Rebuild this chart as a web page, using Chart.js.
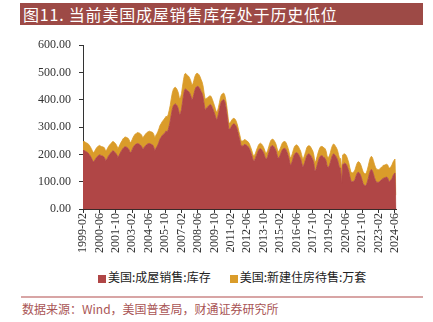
<!DOCTYPE html>
<html lang="zh">
<head>
<meta charset="UTF-8">
<title>图11</title>
<script src="https://cdn.jsdelivr.net/npm/chart.js"></script>
<style>
  body { margin: 0; width: 433px; height: 322px; background: #fff; position: relative; overflow: hidden; }
  #title { position: absolute; left: 20px; top: 3px; width: 403px; height: 22px; background: #9d4a46;
           color: #fff; font: 16px "Noto Sans CJK SC", sans-serif; line-height: 22px; padding-left: 3px;
           letter-spacing: 0.8px; box-sizing: border-box; }
  #wrap { position: absolute; left: 0; top: 30px; width: 433px; height: 232px; }
  #legend { position: absolute; top: 268px; left: 98px; font: 12px "Noto Sans CJK SC", sans-serif; color: #222; white-space: nowrap; }
  #legend span.box { display: inline-block; width: 8px; height: 8px; margin-right: 2px; vertical-align: -0.5px; }
  #legend span.item { margin-right: 19px; }
  #rule { position: absolute; left: 21px; top: 296px; width: 402px; height: 1.5px; background: #d8a5a5; }
  #source { position: absolute; left: 22px; top: 300px; font: 12px "Noto Sans CJK SC", sans-serif; color: #a95555; white-space: nowrap; }
</style>
</head>
<body>
<div id="title">图11. 当前美国成屋销售库存处于历史低位</div>
<div id="wrap"><canvas id="chart" width="433" height="232"></canvas></div>
<div id="legend"></div>
<div id="rule"></div>
<div id="source">数据来源：Wind，美国普查局，财通证券研究所</div>

<script>
// 刻度标签（每16个月一个）
const tickLabels = ['1999-02','2000-06','2001-10','2003-02','2004-06','2005-10','2007-02','2008-06','2009-10','2011-02',
                    '2012-06','2013-10','2015-02','2016-06','2017-10','2019-02','2020-06','2021-10','2023-02','2024-06'];

// 美国:成屋销售:库存 (万套), 1999-02 .. 2024-07
const existingInv = [
  213,215,212,210,208,205,200,195,188,180,172,
  176,182,188,192,196,198,197,195,194,192,188,178,
  180,188,195,200,205,210,213,212,208,204,198,189,
  195,203,210,216,222,226,228,227,225,222,216,205,
  210,218,226,232,236,238,240,239,237,234,230,220,
  222,228,232,236,238,240,240,238,236,234,226,213,
  222,228,235,245,256,262,268,272,276,280,286,282,
  290,305,322,345,365,378,383,385,382,376,365,346,
  350,365,392,418,437,440,436,432,430,424,415,401,
  405,420,435,445,449,449,446,440,431,424,410,385,
  364,368,371,376,380,383,380,372,362,352,340,328,
  332,348,366,385,395,398,401,396,380,356,326,295,
  292,298,305,310,312,310,305,295,281,265,250,232,
  230,232,236,236,234,232,228,222,212,202,190,177,
  178,186,196,206,215,220,221,218,212,205,195,183,
  184,193,206,218,228,232,232,228,222,214,200,186,
  188,196,206,215,220,222,222,216,206,195,180,160,
  165,176,190,200,205,207,205,200,192,185,170,155,
  158,170,182,194,200,202,200,195,188,180,165,138,
  145,158,172,184,192,195,195,192,188,185,175,155,
  153,158,170,185,196,202,200,195,189,180,165,150,
  150,94,162,166,168,166,160,150,138,120,105,100,
  100,102,108,120,130,135,133,128,118,105,93,88,
  84,88,98,112,128,140,145,140,128,115,105,98,
  98,98,100,104,108,110,114,114,116,117,113,102,
  101,106,111,121,128,132,0
];

// 美国:新建住房待售:万套, 1999-02 .. 2024-07
const newHomes = [
  33,33,33,33,33,34,34,34,34,34,34,
  34,34,35,35,35,35,34,34,34,35,35,35,
  35,35,35,35,34,34,34,34,34,34,33,33,
  33,33,34,34,35,35,36,36,36,37,37,37,
  37,37,38,38,39,39,40,40,41,41,42,42,
  42,42,43,43,44,44,45,45,46,46,47,47,
  48,48,49,49,50,50,51,52,53,54,54,55,
  56,57,58,59,60,60,61,61,60,59,59,58,
  58,58,58,57,57,57,57,56,56,55,55,54,
  52,51,50,49,48,47,46,45,44,42,41,40,
  38,37,35,34,33,32,31,30,29,28,27,27,
  26,25,25,24,24,24,24,23,23,23,22,22,
  22,22,21,21,20,20,19,19,19,18,18,18,
  18,18,18,18,17,17,17,18,18,18,18,18,
  18,18,19,19,19,19,20,20,21,21,21,21,
  22,22,22,23,23,23,24,24,24,24,24,24,
  24,24,24,25,25,25,25,26,26,26,26,27,
  27,27,27,28,28,28,28,28,28,28,29,29,
  29,29,29,30,30,30,31,31,31,32,32,32,
  33,33,33,33,34,34,34,35,35,36,36,36,
  36,36,36,36,36,36,36,35,35,35,35,35,
  35,50,36,35,34,33,32,31,31,31,32,32,
  33,34,35,36,37,38,39,40,41,42,43,43,
  44,44,45,46,47,48,48,49,49,49,48,48,
  47,46,46,46,46,47,47,47,47,47,48,48,
  49,49,50,50,50,51,51
];

const seriesNames = ['美国:成屋销售:库存', '美国:新建住房待售:万套'];
const seriesColors = ['#b04646', '#da9c2a'];

// 月份类别
const months = [];
for (let y = 1999, m = 2; months.length < existingInv.length; m++) {
  if (m > 12) { m = 1; y++; }
  months.push(y + '-' + String(m).padStart(2, '0'));
}

const axisFont = { family: '"Liberation Serif", "Times New Roman", serif', size: 12 };

new Chart(document.getElementById('chart'), {
  type: 'line',
  data: {
    labels: months,
    datasets: [
      { label: seriesNames[0], data: existingInv, fill: 'origin', backgroundColor: seriesColors[0],
        borderColor: seriesColors[0], borderWidth: 0.8, pointRadius: 0, tension: 0 },
      { label: seriesNames[1], data: newHomes, fill: '-1', backgroundColor: seriesColors[1],
        borderColor: seriesColors[1], borderWidth: 0.8, pointRadius: 0, tension: 0 }
    ]
  },
  options: {
    responsive: false,
    animation: false,
    layout: { padding: { left: 0, right: 37, top: 13, bottom: 3 } },
    plugins: { legend: { display: false }, tooltip: { enabled: false } },
    scales: {
      x: {
        stacked: true,
        grid: { drawOnChartArea: false, drawTicks: true, tickLength: 4, color: '#333' },
        border: { display: true, color: '#3a2a2a', width: 1 },
        ticks: {
          autoSkip: false, maxRotation: 90, minRotation: 90, padding: 0,
          color: '#333', font: axisFont,
          callback: function (v, i) { return i % 16 === 0 ? months[i] : null; }
        },
        afterFit: s => { s.height = 50; }
      },
      y: {
        stacked: true,
        min: 0, max: 600,
        grid: { drawOnChartArea: false, drawTicks: true, tickLength: 4, color: '#333' },
        border: { display: true, color: '#333', width: 1 },
        ticks: { stepSize: 100, padding: 8, color: '#333', font: axisFont,
                 callback: v => Number(v).toFixed(2) },
        afterFit: s => { s.width = 83; }
      }
    }
  }
});

// 图例
document.getElementById('legend').innerHTML = seriesNames.map((n, i) =>
  '<span class="item"><span class="box" style="background:' + seriesColors[i] + '"></span>' + n + '</span>').join('');
</script>
</body>
</html>
